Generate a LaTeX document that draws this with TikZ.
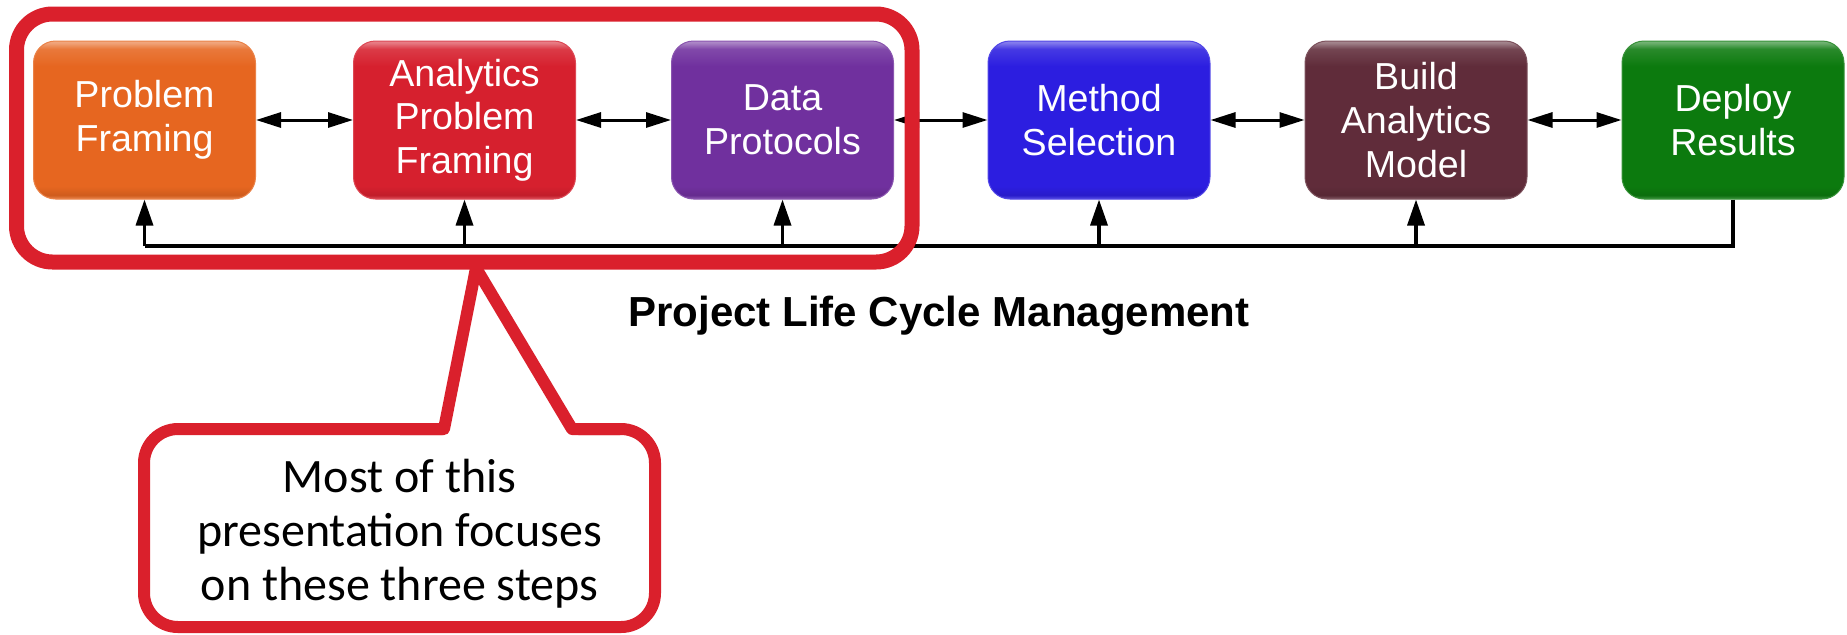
\documentclass[tikz,border=0pt]{standalone}
\usepackage{fontspec}
\setmainfont{Liberation Sans}
\newfontfamily\notefont{Carlito}
\usetikzlibrary{arrows.meta}

\definecolor{stepOrange}{RGB}{230,102,32}
\definecolor{stepRed}{RGB}{214,32,46}
\definecolor{stepPurple}{RGB}{112,48,158}
\definecolor{stepBlue}{RGB}{44,30,224}
\definecolor{stepMaroon}{RGB}{96,44,58}
\definecolor{stepGreen}{RGB}{12,122,14}
\definecolor{focusRed}{RGB}{218,32,44}
\colorlet{stepc}{stepOrange}

% glossy bevel fill: the path spans 25bp (bottom) to 75bp (top)
\pgfdeclareverticalshading[stepc]{bevel}{100bp}{%
  color(0bp)=(stepc!78!white); color(25bp)=(stepc!78!white);
  color(26.2bp)=(stepc!90!black); color(29bp)=(stepc);
  color(67bp)=(stepc); color(72.5bp)=(stepc!88!white);
  color(74.3bp)=(stepc!62!white); color(75bp)=(stepc!55!white);
  color(100bp)=(stepc!55!white)}

% one life-cycle step: name, x position, colour, label
\newcommand\lcstep[4]{%
  \colorlet{stepc}{#3}%
  \node[stepbox=#3] (#1) at (#2,120) {#4};
}

\begin{document}
\begin{tikzpicture}[x=0.5pt,y=-0.5pt,
  stepbox/.style={rounded corners=11pt, minimum width=111pt, minimum height=79pt,
    inner sep=0pt, text=white, align=center,
    font=\fontsize{18.8}{21.8}\selectfont,
    shading=bevel, draw=#1!82!white, line width=0.5pt},
  flow/.style={line width=1.5pt,
    {Triangle[length=12.5pt,width=7.5pt]}-{Triangle[length=12.5pt,width=7.5pt]}},
  fbline/.style={line width=1.7pt},
  uparrow/.style={fbline, -{Triangle[length=13pt,width=8.5pt]}},
  focus/.style={draw=focusRed, line width=7.5pt, rounded corners=18pt},
  noteedge/.style={draw=focusRed, line width=6pt, line join=round}
]
\useasboundingbox (0,0) rectangle (1847,634);

% the six steps
\lcstep{s1}{144.5}{stepOrange}{Problem\\Framing}
\lcstep{s2}{464.5}{stepRed}{Analytics\\Problem\\Framing}
\lcstep{s3}{782.5}{stepPurple}{Data\\Protocols}
\lcstep{s4}{1099}{stepBlue}{Method\\Selection}
\lcstep{s5}{1416}{stepMaroon}{Build\\Analytics\\Model}
\lcstep{s6}{1733}{stepGreen}{Deploy\\Results}

% links between neighbouring steps
\draw[flow] (s1) -- (s2);
\draw[flow] (s2) -- (s3);
\draw[flow] (s3) -- (s4);
\draw[flow] (s4) -- (s5);
\draw[flow] (s5) -- (s6);

% feedback bus from the last step back to every earlier one
\coordinate (fb) at (0,246);
\draw[fbline] (s6.south) -- (s6 |- fb) -- (s1 |- fb);
\foreach \s in {s1,s2,s3,s4,s5}
  \draw[uparrow] (\s |- fb) -- (\s.south);

% caption
\node[font=\fontsize{21}{25}\selectfont\bfseries] (title) at (939,316) {Project Life Cycle Management};

% speech bubble
\node[draw=focusRed, line width=6pt, fill=white, rounded corners=17pt,
      minimum width=255.5pt, minimum height=99pt, inner sep=0pt] (note) at (399.5,528) {};
\fill[white] (442.6,436) -- (476,268) -- (578.6,436) -- cycle;
\draw[noteedge] (400,429) -- (444,429) -- (476,268) -- (572,429) -- (620,429);
\node[align=center, font=\notefont\fontsize{24}{27}\selectfont]
      (notetext) at ([yshift=-3pt]note.center)
      {Most of this\\presentation focuses\\on these three steps};

% frame round the first three steps
\draw[focus] (16.5,14) rectangle (912,262);
\end{tikzpicture}
\end{document}
